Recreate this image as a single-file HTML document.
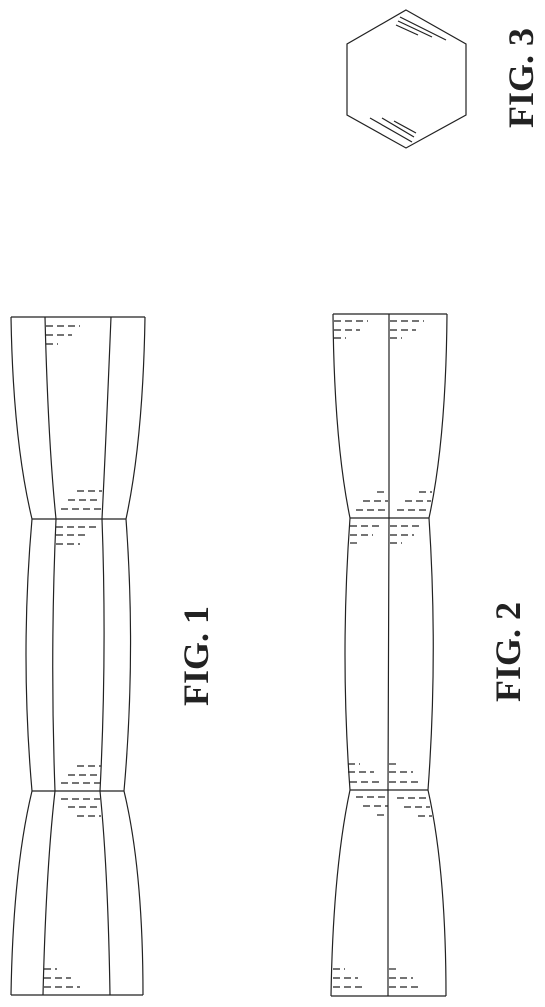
<!DOCTYPE html>
<html><head><meta charset="utf-8"><style>
html,body{margin:0;padding:0;background:#fff;}
svg{display:block;}
text{font-family:"Liberation Serif",serif;font-weight:bold;font-size:36px;fill:#222;}
</style></head><body>
<svg width="545" height="1007" viewBox="0 0 545 1007">
<g fill="none" stroke="#222" stroke-width="1.2">
  <!-- outlines -->
  <path d="M11,317 Q13,440 32,519 Q20,655 32,791 Q13,870 11,995"/>
  <path d="M45,317 Q48,440 56,519 Q50,655 55,791 Q46,870 43,995"/>
  <path d="M111,317 Q106,440 102,519 Q107,655 100,791 Q108,870 110,995"/>
  <path d="M145,317 Q143,440 126,519 Q136,655 124,791 Q143,870 143,995"/>
  <line x1="11" y1="317" x2="145" y2="317"/>
  <line x1="32" y1="519" x2="126" y2="519"/>
  <line x1="32" y1="791" x2="124" y2="791"/>
  <line x1="11" y1="995" x2="143" y2="995"/>
  <g stroke-dasharray="7,4">
    <line x1="46" y1="326" x2="80" y2="326"/><line x1="46" y1="335" x2="72" y2="335"/><line x1="46" y1="344" x2="58" y2="344"/>
    <line x1="77" y1="491" x2="102" y2="491"/><line x1="68" y1="500" x2="101" y2="500"/><line x1="61" y1="509" x2="101" y2="509"/>
    <line x1="56" y1="527" x2="96" y2="527"/><line x1="56" y1="535" x2="88" y2="535"/><line x1="56" y1="544" x2="80" y2="544"/>
    <line x1="77" y1="766" x2="101" y2="766"/><line x1="68" y1="775" x2="100" y2="775"/><line x1="61" y1="783" x2="100" y2="783"/>
    <line x1="61" y1="799" x2="100" y2="799"/><line x1="68" y1="807" x2="100" y2="807"/><line x1="77" y1="816" x2="101" y2="816"/>
    <line x1="44" y1="969" x2="57" y2="969"/><line x1="44" y1="978" x2="71" y2="978"/><line x1="44" y1="987" x2="80" y2="987"/>
  </g>
</g>
<g fill="none" stroke="#222" stroke-width="1.2">
  <path d="M333,314 Q334,440 350,518 Q340,655 350,790 Q333,870 331,996"/>
  <path d="M389,314 L389,518 L388,790 L388,996"/>
  <path d="M447,314 Q446,440 429,518 Q438,655 428,790 Q446,870 446,996"/>
  <line x1="333" y1="314" x2="447" y2="314"/>
  <line x1="350" y1="518" x2="429" y2="518"/>
  <line x1="350" y1="790" x2="428" y2="790"/>
  <line x1="331" y1="996" x2="446" y2="996"/>
  <g stroke-dasharray="7,4">
    <line x1="334" y1="321" x2="368" y2="321"/><line x1="334" y1="330" x2="360" y2="330"/><line x1="334" y1="338" x2="346" y2="338"/>
    <line x1="390" y1="321" x2="424" y2="321"/><line x1="390" y1="330" x2="416" y2="330"/><line x1="390" y1="338" x2="402" y2="338"/>
    <line x1="377" y1="492" x2="388" y2="492"/><line x1="363" y1="501" x2="388" y2="501"/><line x1="356" y1="510" x2="388" y2="510"/>
    <line x1="419" y1="492" x2="432" y2="492"/><line x1="405" y1="501" x2="431" y2="501"/><line x1="397" y1="510" x2="430" y2="510"/>
    <line x1="350" y1="526" x2="382" y2="526"/><line x1="350" y1="535" x2="373" y2="535"/><line x1="350" y1="543" x2="360" y2="543"/>
    <line x1="390" y1="526" x2="422" y2="526"/><line x1="390" y1="535" x2="414" y2="535"/><line x1="390" y1="543" x2="402" y2="543"/>
    <line x1="348" y1="764" x2="360" y2="764"/><line x1="348" y1="772" x2="374" y2="772"/><line x1="350" y1="782" x2="382" y2="782"/>
    <line x1="389" y1="764" x2="400" y2="764"/><line x1="389" y1="772" x2="413" y2="772"/><line x1="389" y1="782" x2="422" y2="782"/>
    <line x1="356" y1="797" x2="388" y2="797"/><line x1="363" y1="806" x2="388" y2="806"/><line x1="377" y1="815" x2="388" y2="815"/>
    <line x1="397" y1="798" x2="429" y2="798"/><line x1="404" y1="807" x2="430" y2="807"/><line x1="418" y1="816" x2="432" y2="816"/>
    <line x1="333" y1="969" x2="345" y2="969"/><line x1="333" y1="978" x2="358" y2="978"/><line x1="333" y1="987" x2="366" y2="987"/>
    <line x1="389" y1="969" x2="400" y2="969"/><line x1="389" y1="978" x2="413" y2="978"/><line x1="389" y1="987" x2="422" y2="987"/>
  </g>
</g>
<g fill="none" stroke="#222" stroke-width="1.2">
  <polygon points="406,10 466,44 466,115 406,148 347,115 347,44"/>
  <g>
    <line x1="400" y1="17" x2="446" y2="40"/><line x1="398" y1="21" x2="432" y2="37"/><line x1="396" y1="25" x2="418" y2="35"/>
    <line x1="370" y1="118" x2="412" y2="142"/><line x1="382" y1="118" x2="414" y2="137"/><line x1="394" y1="121" x2="416" y2="133"/>
  </g>
</g>
<text transform="translate(208,656) rotate(-90)" text-anchor="middle">FIG. 1</text>
<text transform="translate(520,652) rotate(-90)" text-anchor="middle">FIG. 2</text>
<text transform="translate(533,78) rotate(-90)" text-anchor="middle">FIG. 3</text>
</svg>
</body></html>
